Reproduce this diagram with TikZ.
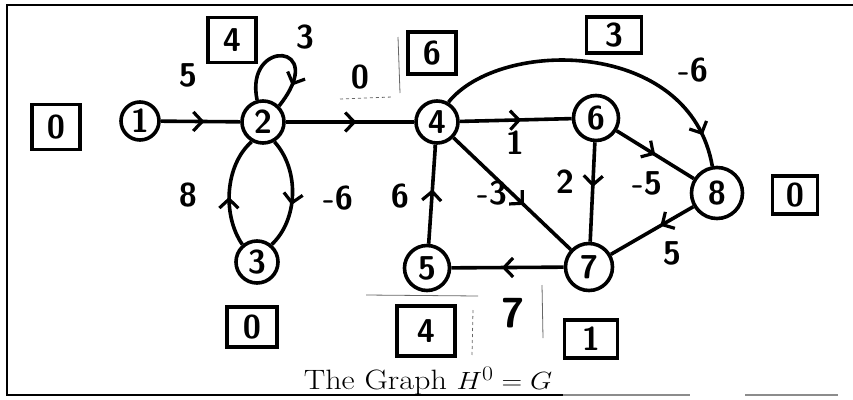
\documentclass[tikz,border=0pt]{standalone}
\usetikzlibrary{arrows.meta,decorations.markings}
\begin{document}
\begin{tikzpicture}[x=1pt,y=-1pt,
  hw/.style={font=\fontsize{33}{35}\selectfont\sffamily\bfseries},
  vtx/.style={circle, draw, line width=3.6pt, inner sep=0pt, minimum size=#1, hw},
  vtx/.default=40pt,
  lbox/.style={draw, line width=3.4pt, inner sep=0pt, hw},
  wlab/.style={hw, inner sep=1pt},
  edg/.style={line width=3.6pt},
  midarr/.style={postaction=decorate, decoration={markings,
      mark=at position #1 with {\arrow{Straight Barb[length=9pt,width=19pt,line width=3.2pt]}}}},
  midarr/.default=0.5,
  scan/.style={line width=0.8pt, black!60}
]
\useasboundingbox (0,0) rectangle (853,399);
% frame
\draw[line width=2pt] (853,5) -- (7,5) -- (7,395) -- (563,395);
\draw[line width=1.5pt, black!45] (563,395) -- (690,395) (745,395) -- (838,395);
% scan artifacts
\draw[scan] (398,37) -- (400,93);
\draw[scan, dashed] (340,99) -- (392,97);
\draw[scan] (366,295) -- (478,296);
\draw[scan] (542,285) -- (543,338);
\draw[scan, dashed] (473,310) -- (472,355);
\draw[scan, dashed] (433,145) -- (433,178);
% vertices
\node[vtx=38pt] (n1) at (140,121) {1};
\node[vtx=42pt] (n2) at (263,122) {2};
\node[vtx=42pt] (n3) at (257,262) {3};
\node[vtx=42pt] (n4) at (437,122) {4};
\node[vtx=45pt] (n5) at (427,268) {5};
\node[vtx=45pt] (n6) at (596,118) {6};
\node[vtx=47pt] (n7) at (589,267) {7};
\node[vtx=51pt] (n8) at (717,193) {8};
% label boxes
\node[lbox, minimum width=48pt, minimum height=45pt] (b1) at (56,127) {0};
\node[lbox, minimum width=48pt, minimum height=45pt] (b2) at (232,40) {4};
\node[lbox, minimum width=48pt, minimum height=42pt] (b4) at (432,53) {6};
\node[lbox, minimum width=55pt, minimum height=36pt] (b6) at (614,35) {3};
\node[lbox, minimum width=45pt, minimum height=38pt] (b8) at (795,195) {0};
\node[lbox, minimum width=50pt, minimum height=40pt] (b3) at (252,327) {0};
\node[lbox, minimum width=58pt, minimum height=50pt] (b5) at (426,331) {4};
\node[lbox, minimum width=53pt, minimum height=38pt] (b7) at (591,339) {1};
% edges
\draw[edg, midarr=0.8] (n2.105) .. controls (244,38) and (330,42) .. (n2.45);
\draw[edg, midarr=0.55] (n1) -- (n2);
\draw[edg, midarr=0.55] (n2) -- (n4);
\draw[edg, midarr=0.6] (n2.-60) .. controls (300,170) and (298,220) .. (n3.50);
\draw[edg, midarr=0.45] (n3.130) .. controls (222,215) and (225,165) .. (n2.-120);
\draw[edg, midarr=0.55] (n4) -- (n6);
\draw[edg, midarr=0.9] (n4.60) .. controls (500,38) and (690,38) .. (n8.100);
\draw[edg, midarr=0.6] (n4) -- (n7);
\draw[edg, midarr=0.45] (n6) -- (n7);
\draw[edg, midarr=0.5] (n6) -- (n8);
\draw[edg, midarr=0.4] (n8) -- (n7);
\draw[edg, midarr=0.55] (n7) -- (n5);
\draw[edg, midarr=0.55] (n5) -- (n4);
% edge weights
\node[wlab] (w12) at (188,75) {5};
\node[wlab] (w22) at (305,37) {3};
\node[wlab] (w24) at (360,77) {0};
\node[wlab] (w32) at (188,195) {8};
\node[wlab] (w23) at (338,198) {-6};
\node[wlab] (w54) at (400,196) {6};
\node[wlab] (w47) at (492,193) {-3};
\node[wlab] (w67) at (565,182) {2};
\node[wlab] (w68) at (647,183) {-5};
\node[wlab] (w46) at (515,143) {1};
\node[wlab] (w48) at (693,70) {-6};
\node[wlab] (w87) at (672,253) {5};
\node[font=\fontsize{42}{44}\selectfont\sffamily\bfseries] (w75) at (513,313) {7};
% caption
\node[inner sep=0pt] (cap) at (428,381) {\scalebox{1.15}[1]{\fontsize{28}{32}\selectfont The Graph $H^0 = G$}};
\end{tikzpicture}
\end{document}
